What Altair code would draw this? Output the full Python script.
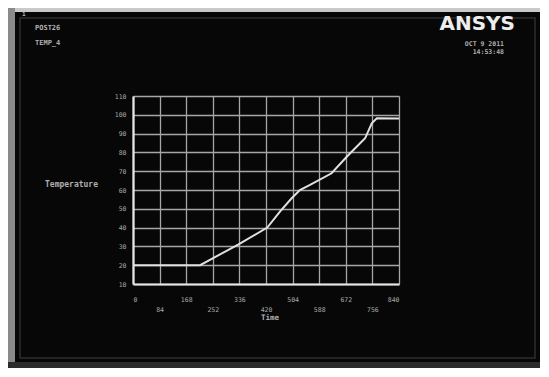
import altair as alt
import pandas as pd

# ---- data ----
time = [0, 212, 332, 424, 464, 501, 527, 559, 627, 675, 733, 754, 770, 840]
temperature = [20, 20, 31, 40, 48.5, 55.6, 60, 62.7, 68.9, 77.7, 87.5, 95.5, 98.1, 98]
x_ticks = [0, 84, 168, 252, 336, 420, 504, 588, 672, 756, 840]
y_ticks = [10, 20, 30, 40, 50, 60, 70, 80, 90, 100, 110]

df = pd.DataFrame({"Time": time, "Temperature": temperature})

W, H = 266, 188
MONO = "DejaVu Sans Mono"
one = alt.Data(values=[{}])


def rect(x, x2, y, y2, fill, stroke=None, sw=0):
    kw = dict(fill=fill)
    if stroke:
        kw = dict(filled=False, stroke=stroke, strokeWidth=sw)
    return alt.Chart(one).mark_rect(**kw).encode(
        x=alt.value(x), x2=alt.value(x2), y=alt.value(y), y2=alt.value(y2)
    )


def label(txt, x, y, size, align="left", color="#b0b0b0", weight="bold", font=MONO):
    return alt.Chart(one).mark_text(
        text=txt, align=align, baseline="middle", fontSize=size,
        font=font, fontWeight=weight, color=color
    ).encode(x=alt.value(x), y=alt.value(y))


# photo frame pieces (outside the monitor screen)
top_band = rect(-125, 407, -88, -84, "#c9c9c9")
left_strip = rect(-125, -118, -88, 272, "#8a8a8a")
bottom_strip = rect(-125, 407, 266, 272, "#2c2c2c")
inner_border = rect(-113, 402, -78, 262, None, stroke="#2e2e2e", sw=1.5)

line = alt.Chart(df).mark_line(color="#e0e0e0", strokeWidth=2).encode(
    x=alt.X(
        "Time:Q",
        scale=alt.Scale(domain=[0, 840], nice=False, zero=False),
        axis=alt.Axis(
            values=x_ticks, title=None, grid=True, gridColor="#a6a6a6",
            gridWidth=1.3, domainColor="#e8e8e8", domainWidth=2.2,
            ticks=False, labelFont=MONO, labelFontSize=6.5, labelColor="#a8a8a8",
            labelPadding=12, labelLineHeight=10,
            labelExpr="datum.value % 168 == 84 ? ['', datum.label] : datum.label",
        ),
    ),
    y=alt.Y(
        "Temperature:Q",
        scale=alt.Scale(domain=[10, 110], nice=False, zero=False),
        axis=alt.Axis(
            values=y_ticks, title=None, grid=True, gridColor="#a6a6a6",
            gridWidth=1.3, domainColor="#e8e8e8", domainWidth=2.2,
            ticks=False, labelFont=MONO, labelFontSize=6.5, labelColor="#a8a8a8",
            labelPadding=7,
        ),
    ),
)

texts = [
    label("1", -111, -82, 6),
    label("POST26", -98, -68, 7),
    label("TEMP_4", -98, -53, 7),
    label("ANSYS", 382, -72, 20, align="right", color="#eeeeee",
          weight="bold", font="DejaVu Sans"),
    label("OCT  9 2011", 371, -52, 6.5, align="right"),
    label("14:53:48", 371, -44, 6.5, align="right"),
    label("Temperature", -88, 89, 8),
    label("Time", 137, 222, 7.5, align="center"),
]

chart = alt.layer(
    top_band, left_strip, bottom_strip, inner_border, line, *texts
).properties(
    width=W, height=H,
    autosize=alt.AutoSizeParams(type="none"),
    padding={"left": 125, "top": 88, "right": 141, "bottom": 84},
    background="#070707",
).configure_view(stroke=None)

chart.save("out.html", embed_options={"renderer": "svg", "actions": False})
